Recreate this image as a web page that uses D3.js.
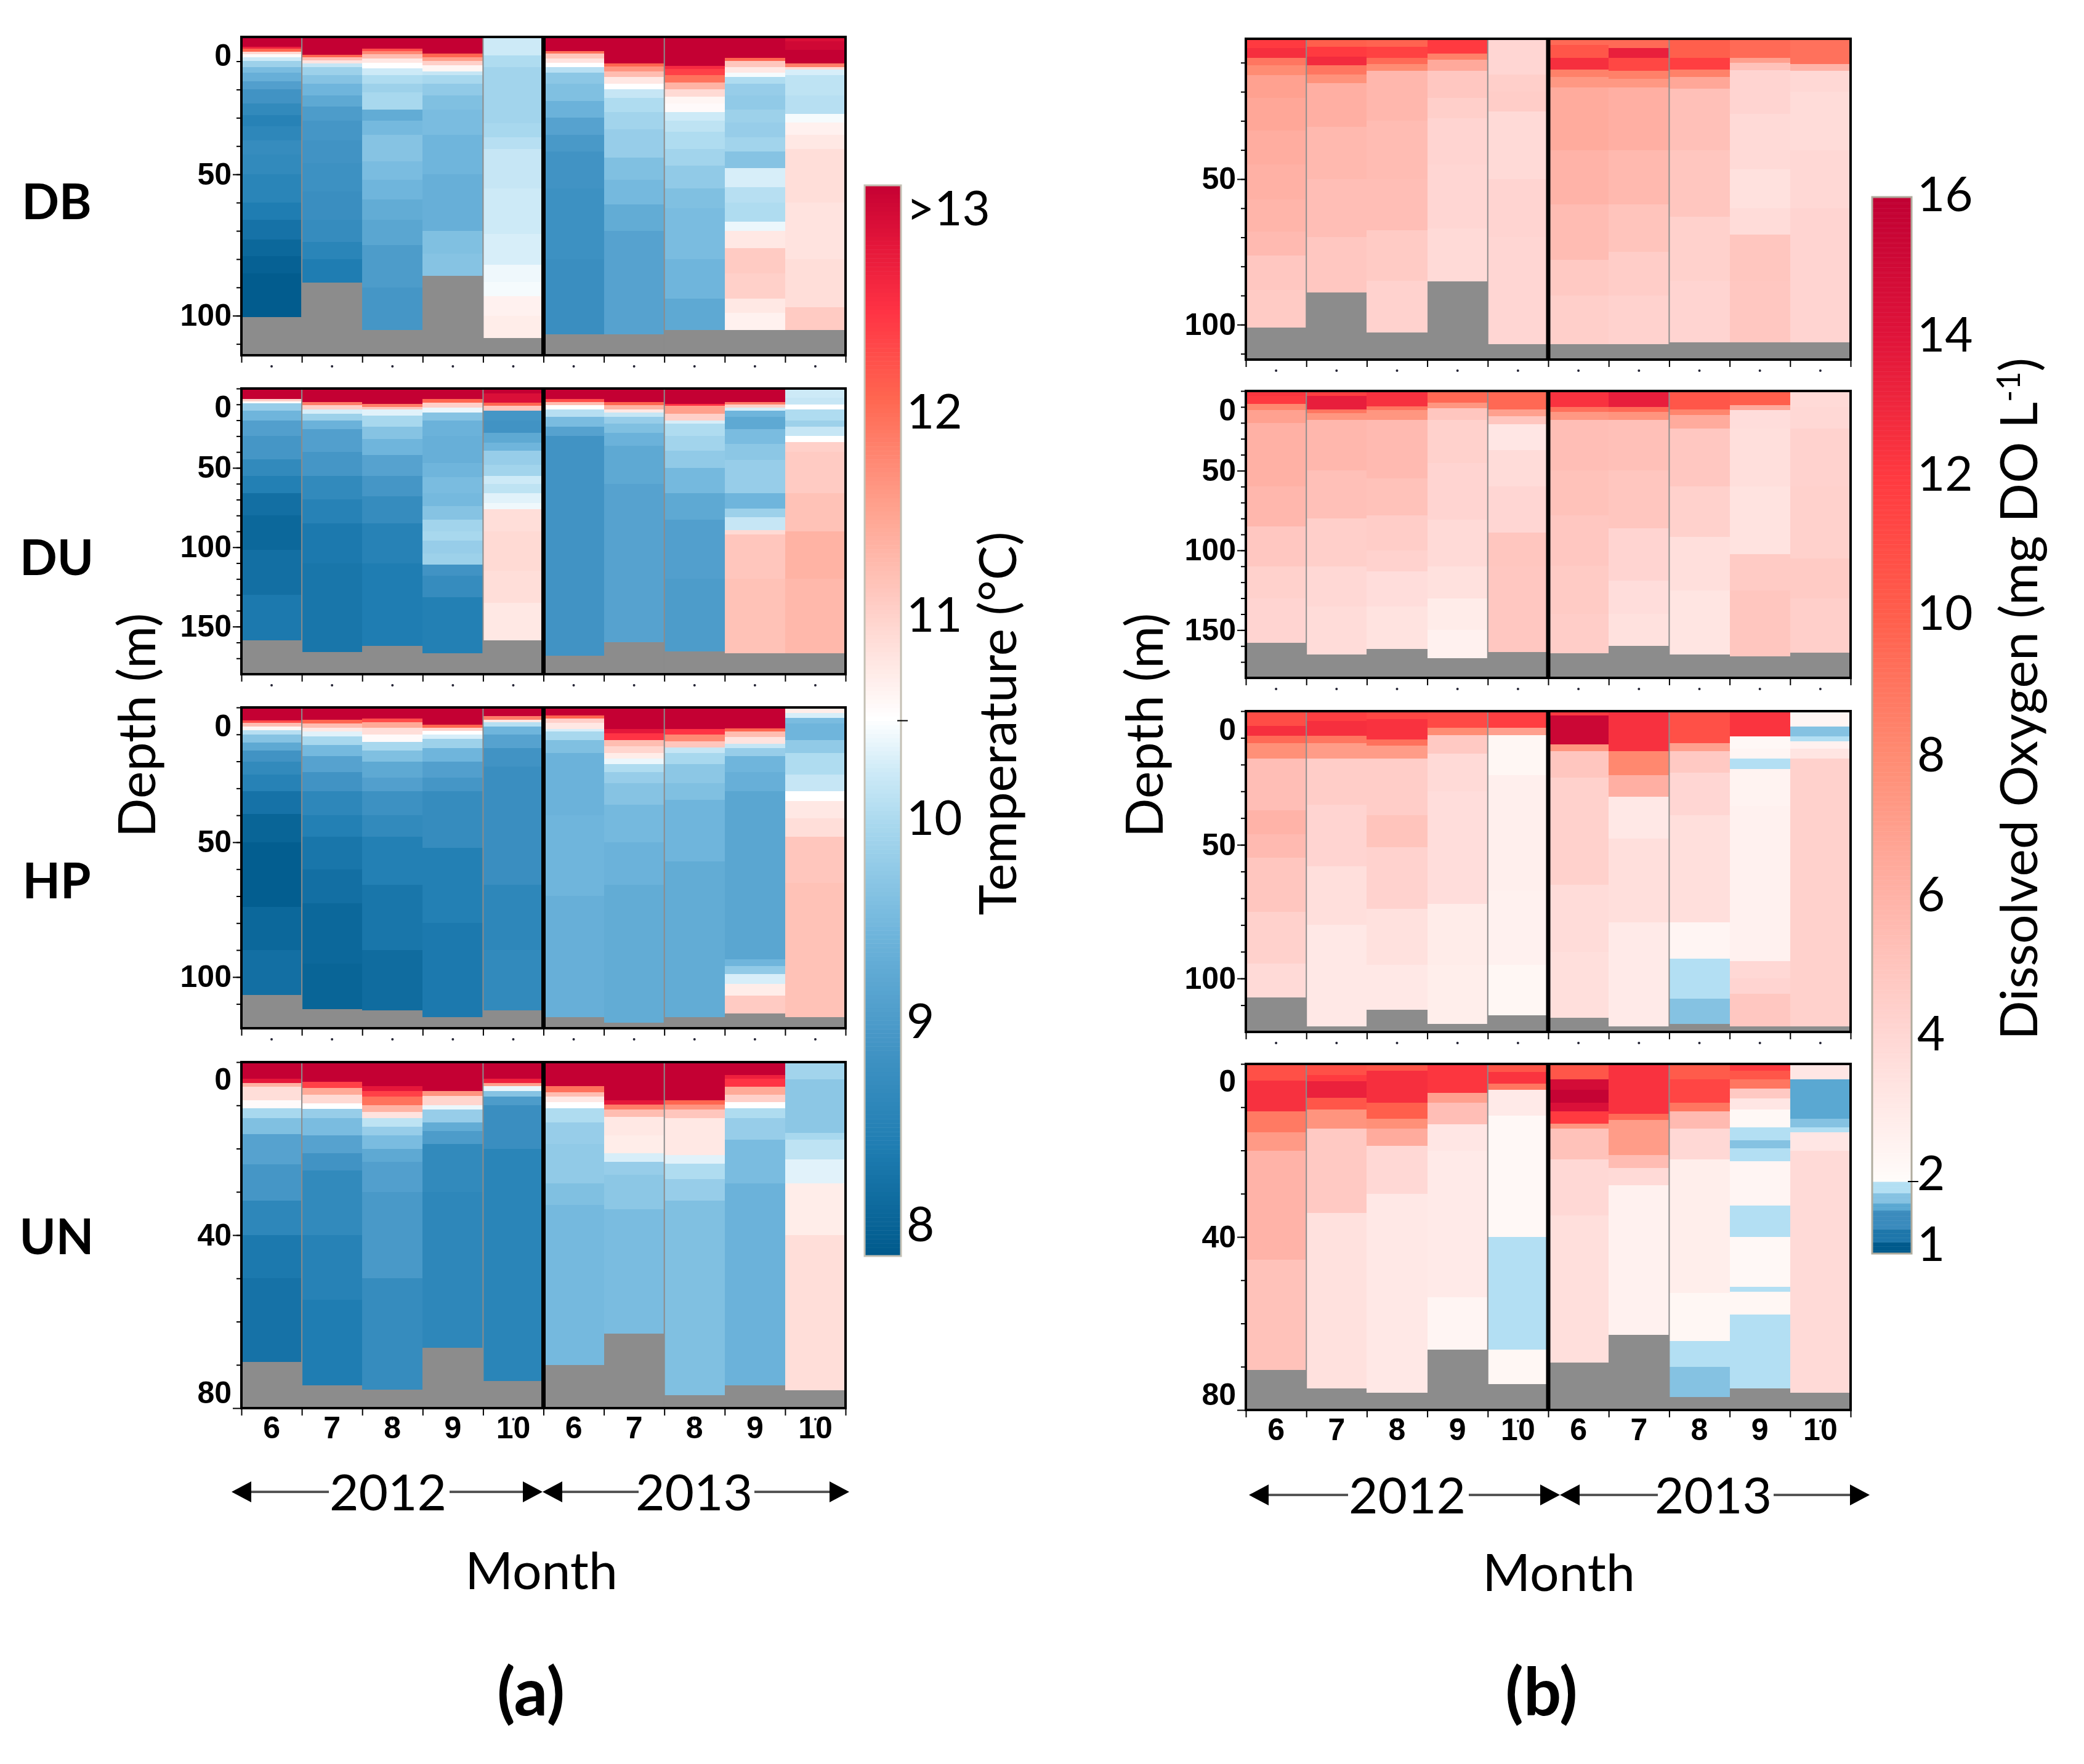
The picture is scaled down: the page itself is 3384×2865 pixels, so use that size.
<!DOCTYPE html>
<html>
<head>
<meta charset="utf-8">
<script src="https://cdn.jsdelivr.net/npm/d3@7"></script>
<style>
  body { margin: 0; background: #fff; }
  text { fill: #000; }
  .tick-num { font-family: "Liberation Sans", sans-serif; font-weight: 700; font-size: 50px; }
  .label { font-family: Lato, sans-serif; }
</style>
</head>
<body>
<svg id="chart" width="3384" height="2865"></svg>
<script>
// --- data ---
// every profile is a list of [bottom depth of band (m), value]
const sites = ["DB", "DU", "HP", "UN"];
const monthLabels = [6, 7, 8, 9, 10, 6, 7, 8, 9, 10];
const years = ["2012", "2013"];

const tempDB = [
  [[4.8,13],[5.6,12.6],[6.6,12],[7.6,10.9],[8.6,10.55],[10,10.25],[12,9.9],[14,9.6],[17,9.4],[20,9.15],[25,8.95],[29,8.75],[33,8.6],[38,8.7],[43,8.8],[50,8.75],[60,8.65],[66,8.5],[73,8.35],[79,8.2],[85,8.1],[100.5,8.03]],
  [[7.7,13],[8.6,12],[9.6,11.2],[10.7,10.8],[12,10.2],[15,9.9],[18,9.7],[22,9.5],[26,9.3],[31,9.1],[38,9],[46,8.95],[56,8.9],[66,8.85],[74,8.8],[80,8.65],[88.4,8.5]],
  [[5.5,13],[6.5,12.2],[7.5,11.7],[9,11.2],[10.5,10.75],[12.5,10.5],[15,10.25],[18,10.05],[21,9.9],[24,10],[27,10],[31,9.35],[36,9.55],[45.5,9.7],[52,9.6],[59,9.5],[66,9.35],[75,9.25],[90,9.1],[105,9]],
  [[7.3,13],[8.5,12],[10,11.5],[11.5,11],[13.5,10.6],[15,10.2],[18,10],[22,9.8],[27,9.65],[36,9.6],[50,9.5],[62,9.4],[70,9.4],[78,9.65],[86,9.7]],
  [[8,10.25],[12,10.05],[32,9.95],[37,10],[41,10.1],[55,10.2],[71,10.25],[76,10.3],[82,10.3],[88,10.42],[93,10.45],[100,10.65],[108,10.7]],
  [[6.5,13],[7.3,11.9],[9,11.1],[10.5,10.8],[12,10.5],[14,10.1],[18,9.75],[24,9.65],[30,9.45],[36,9.2],[42,9.05],[55,8.95],[80,8.9],[106.5,8.85]],
  [[10.8,13],[11.8,12],[13.5,11.6],[15.5,11.2],[18,10.75],[20,10.5],[23,10.2],[28,10.05],[34,9.95],[44,9.85],[52,9.65],[60.6,9.55],[70,9.35],[106.5,9.2]],
  [[11.6,13],[12.8,12.5],[15,12.3],[17.5,11.9],[20,11.3],[22.5,10.9],[25,10.6],[28,10.55],[31,10.25],[35,10.15],[41,10.05],[47,9.95],[55,9.8],[62,9.65],[80,9.6],[94,9.5],[105,9.3]],
  [[8.8,13],[10,12],[12,11.1],[14,10.75],[15.5,10.45],[18,10.05],[22,9.85],[27,9.8],[31.7,9.9],[37,9.85],[42,9.95],[47.7,9.7],[54.6,10.3],[60,10.1],[66.8,10.05],[70,10.4],[76,10.75],[85,11.05],[94,11],[99,10.75],[105,10.65]],
  [[3,12.8],[6,12.9],[10.8,13],[12,11.8],[13,10.9],[15,10.3],[22,10.15],[28.7,10.1],[31.7,10.45],[36,10.65],[41,10.75],[60,10.85],[80,10.8],[97,10.85],[105,11.05]]
];
const tempDU = [
  [[6.5,13],[8,11],[9.5,10.5],[14,9.85],[20,9.5],[30,9.15],[44.6,9],[55,8.75],[66,8.55],[80,8.3],[101.6,8.2],[130,8.3],[158.7,8.45]],
  [[8.7,13],[10.5,11.8],[13.3,11],[16,10.3],[20,9.9],[25.5,9.45],[40,9.15],[55,9],[70,8.75],[85,8.6],[110,8.45],[166,8.4]],
  [[9.8,13],[11.5,11.8],[13.3,11.1],[17,10.35],[24,10],[32,9.7],[42,9.5],[55,9.2],[68,9],[85,8.8],[110,8.6],[162,8.5]],
  [[6.5,13],[9,12],[12,11],[15,10.4],[20,9.7],[30,9.45],[47,9.4],[56,9.5],[66,9.6],[74,9.55],[82.6,9.7],[90,9.95],[96,10],[104,9.85],[111,9.9],[118,8.95],[131.5,8.8],[150,8.55],[167,8.55]],
  [[3,13],[9,12.8],[11,12],[14,11.1],[20,9],[28,8.95],[34,9.3],[39,9.5],[48,9.85],[55,9.95],[60,10.25],[66,10.15],[72,10.35],[76,10.42],[90,10.85],[115,10.9],[135,10.85],[158.7,10.75]],
  [[6.5,13],[8.5,12.2],[10.6,11.2],[13,10.5],[18,10.1],[24,9.6],[30,9.2],[168.5,8.95]],
  [[8.5,13],[10.5,12],[13,11.3],[15,10.75],[18,10.2],[22,9.85],[28,9.65],[36,9.45],[60,9.3],[160,9.2]],
  [[9.8,13],[11,12.4],[16,11.5],[20,11],[22,10.3],[30,10.05],[39,9.95],[50,9.8],[66,9.55],[82.6,9.3],[120,9.15],[165.5,9.1]],
  [[8.7,13],[10,11.8],[12,11],[14,10.3],[18,9.5],[25.5,9.3],[35,9.6],[45,9.75],[55,9.85],[66,9.85],[75.5,9.5],[81,9.9],[89.4,10.2],[92,10.9],[120,11.1],[167,11.15]],
  [[6,10.25],[10,10.2],[13,10.5],[20,10.05],[24,9.9],[30,10.2],[33.7,10.5],[40,11],[66,11.05],[90,11.15],[120,11.3],[167,11.25]]
];
const tempHP = [
  [[4.8,13],[5.8,12.2],[7,11.2],[8.5,10.6],[10,10.1],[13,9.7],[16,9.3],[20,8.95],[25,8.75],[31,8.6],[39.5,8.35],[50,8.15],[74,8.05],[90,8.2],[106.6,8.3]],
  [[4.5,13],[6,12],[7.5,11.2],[9,10.75],[10.8,10.35],[14,10],[18,9.55],[24,9.2],[31,8.95],[40,8.7],[48,8.55],[60,8.4],[72.6,8.3],[95,8.2],[112,8.15]],
  [[4,13],[5.5,12.2],[7.5,11.4],[10,10.85],[12.9,10.55],[16,10],[20,9.65],[26,9.3],[31,9.15],[40,8.9],[48,8.75],[65.7,8.55],[90,8.4],[112.4,8.25]],
  [[6.5,13],[7.6,12],[8.6,11],[10,10.5],[11.7,10.3],[15,9.9],[20,9.5],[26,9.15],[31,9],[52,8.8],[80,8.55],[115,8.45]],
  [[3.3,13],[4.5,11.8],[5.5,10.75],[7,10.1],[10,9.5],[15,9.2],[22,8.95],[29,8.85],[65.7,8.85],[90,8.7],[112.4,8.75]],
  [[3,13],[4,12],[5.6,11],[8,10.75],[9,10.3],[12,10],[17,9.65],[40,9.45],[70,9.5],[115,9.4]],
  [[8,13],[9.5,12.7],[12,12.4],[14.5,11.2],[17,10.95],[19,10.7],[21,10.4],[24,10.05],[28,9.85],[36,9.7],[50,9.55],[65.7,9.45],[117,9.35]],
  [[8,13],[10,12.4],[12.5,11.7],[14.8,11.1],[17,10.2],[21,10],[28,9.75],[34.3,9.65],[57,9.5],[115,9.35]],
  [[7.8,13],[9,12],[11,11.2],[13.4,10.8],[15,10.2],[18,9.85],[24,9.5],[31,9.4],[93.5,9.25],[96,9.5],[99,9.8],[102.6,10.3],[107,10.7],[113.6,11.05]],
  [[2,10.7],[3.8,10.3],[6,9.6],[12,9.5],[17,9.8],[25,10.05],[31,10.2],[34.7,10.5],[41,10.75],[48,10.85],[65,11.1],[115,11.15]]
];
const tempUN = [
  [[3.8,13],[4.8,12.7],[5.7,11.3],[8.8,10.85],[10.7,10.55],[13,10],[16.7,9.65],[23.6,9.2],[32,9],[40,8.7],[50,8.45],[69.3,8.35]],
  [[4.6,13],[6,12.3],[7.5,11.4],[9.5,10.9],[10.8,10.5],[13,9.85],[17,9.6],[21,9.2],[25,8.95],[40,8.75],[55,8.6],[74.7,8.5]],
  [[5.5,13],[6.7,12.7],[8,12.3],[10,11.9],[11.5,11.3],[13,10.8],[15,10.15],[17,9.85],[20,9.6],[23,9.3],[30,9.15],[50,9.05],[75.8,8.8]],
  [[6.7,13],[7.8,11.6],[10,10.95],[11,10.4],[14,9.85],[16,9.35],[19,9.1],[30,8.75],[66,8.7]],
  [[3.8,13],[4.8,12.6],[5.6,11.5],[6.7,10.4],[8,9.7],[10,9.1],[20,8.85],[33,8.65],[73.7,8.65]],
  [[5.5,13],[7,11.9],[8,11.2],[9.3,10.75],[10.7,10.5],[14,10.05],[19,9.85],[28,9.8],[33,9.65],[70,9.55]],
  [[8.8,13],[9.8,12.7],[11,11.8],[12.7,11.2],[17,10.75],[21,10.7],[23,10.3],[26,9.85],[34,9.75],[62.8,9.6]],
  [[8.8,13],[9.8,12],[11,11.6],[13,11.1],[21.5,10.75],[23.5,10.35],[27,10.05],[32,9.85],[77,9.65]],
  [[3,13],[3.8,12.6],[5.7,12.4],[7.5,11.4],[9.3,11],[10.7,10.5],[13,10.05],[18,9.85],[28,9.6],[74.7,9.45]],
  [[4,9.95],[16.3,9.75],[18,10],[22.5,10.15],[28,10.35],[40,10.7],[75.9,10.85]]
];

const doDB = [
  [[5,12],[8.3,12.6],[11,9],[14.2,8],[22,6.9],[33.4,6.6],[45,6.3],[57,6.1],[68,5.9],[76.3,5.6],[88,4.9],[100.9,4.7]],
  [[4.6,10],[8,12],[11,12.8],[14,9],[17,7.7],[32,6.2],[50,5.7],[70,5.4],[89,4.9]],
  [[4.6,9.8],[8.3,11.6],[10.5,9.5],[12.7,8],[30,5.8],[50,5.5],[67.5,5.4],[85,4.7],[102.7,4.3]],
  [[6.8,12],[9,8.5],[12.7,6.5],[22,4.9],[29,4.5],[45,4.2],[67,4.1],[85.2,3.9]],
  [[14,4.1],[20,4.5],[26.8,4.6],[50,3.9],[70,4.2],[106.7,4.1]],
  [[4,9.5],[8.3,10.5],[12.4,12.6],[15,8.5],[18.6,7.4],[40,6.4],[58.6,6],[77.8,5.5],[90,4.8],[106.7,4.5]],
  [[5,9.5],[8.3,13.4],[12.7,11.3],[15.5,8.5],[18.6,7.4],[40,6.2],[58.6,5.7],[75,5.1],[90,4.6],[106.7,4.3]],
  [[8.3,10],[12.4,11.8],[15,8.5],[19,6.6],[40,5.3],[63,5],[85,4.4],[106,4.2]],
  [[8.3,9.5],[10,7],[12.5,5.2],[27.5,4.2],[46.7,3.9],[60,3.5],[69,3.8],[85,5],[106,4.9]],
  [[10.5,9.2],[12.7,6],[20,4],[40,3.8],[60,4],[106,4.2]]
];
const doDU = [
  [[3,12.2],[8,12],[12,8.2],[20,6.9],[60,6.1],[85,5.8],[110,4.9],[130,4.4],[158,4.2]],
  [[3,11.8],[11.4,13.5],[14,9],[18,7.5],[50,5.8],[80,5.3],[110,4.5],[135,4],[165.5,3.8]],
  [[9.5,12.5],[12,9],[18,7.5],[55,5.6],[78,5.2],[100,4.6],[113,4.3],[135,3.7],[162,3.4]],
  [[7.3,9.6],[11,7.5],[18,5],[45,4.4],[80.7,4.2],[110,3.9],[130,3.5],[150,2.9],[167.7,2.6]],
  [[11.4,9.6],[16,7],[21,5],[37,3.2],[60,3.8],[89,4.1],[110,5],[163.6,4.9]],
  [[10,12.4],[13,9.2],[18,7.4],[50,5.4],[78,5.2],[109.6,4.9],[140,4.7],[164.4,4.6]],
  [[10,13.5],[13,9.5],[18,7.6],[50,5.3],[86,5],[118.8,4.2],[140,3.7],[160,3.5]],
  [[11.4,10.5],[15,8.3],[23.6,6.4],[60,4.9],[91.6,4.4],[125,3.6],[165.5,3.3]],
  [[8.7,10],[12,6.5],[23.6,3.7],[60,3.6],[102.4,3.4],[125,4.7],[166.6,5]],
  [[10,3.9],[23.6,4],[60,4.3],[105,4.4],[130,4.7],[164,4.5]]
];
const doHP = [
  [[5.5,11],[9.3,12.6],[12,9.5],[17.8,7.8],[37,5.4],[46,6],[54.8,5.6],[75,5],[94.5,4.4],[107,3.9]],
  [[3.7,11.8],[9.3,12.6],[12,9],[17.8,7.2],[35,4.6],[58,4.2],[80,3.6],[118,3.1]],
  [[3,11.3],[10.7,12.4],[13,9.2],[17.8,7.2],[39,4.6],[51,5.1],[74,4.3],[95,3.5],[111.6,3.1]],
  [[6.3,11.2],[9,8],[16,4.8],[30,3.9],[72,3.7],[95,2.9],[117,2.8]],
  [[6.3,11.8],[9,7],[24,2.3],[67,2.7],[95,2.6],[113.7,2.3]],
  [[1.7,12],[12.5,15.3],[15,7.5],[24.8,5],[65,4.4],[90,3.8],[114.6,3.6]],
  [[15,12.5],[24,8.2],[32,6.2],[47.7,3.1],[79,3.6],[118,3]],
  [[12,10.8],[15,7],[23,4.8],[39,4.1],[79,3.6],[92.6,2.4],[107.6,1.9],[117,1.75]],
  [[9.5,12.3],[14,2.2],[17.8,2.4],[21.6,1.9],[35.4,2.5],[93.5,2.6],[100,4],[105.8,4.2],[118,4.9]],
  [[5.8,2.4],[9.5,1.75],[11.3,1.9],[14,2.6],[17.8,3.3],[118,4.4]]
];
const doUN = [
  [[3.9,10.8],[11,12.5],[15.8,8.8],[20,7.3],[45.3,6],[70.8,5.2]],
  [[2.5,10.8],[4,12],[7.8,13.3],[10.5,10.5],[15,7.6],[34.5,4.8],[75,3.5]],
  [[1.5,10.5],[9,12.6],[12.7,10],[15,7.8],[19,6.4],[30,4],[76,3.1]],
  [[6.7,12.2],[9,7],[14,5.4],[20,3.2],[54,3],[66,2.4]],
  [[1.8,10.5],[4.6,12.3],[6,9],[12,3],[40,2.2],[66,1.9],[74,2.3]],
  [[3.5,10.5],[6,14.8],[9,15.7],[11,14.4],[13.8,12],[15,7.5],[22,5.2],[35,4],[69,3.6]],
  [[11.6,12.4],[13,9.5],[21,7.2],[24,5.5],[28,3.9],[62.7,2.6]],
  [[3.5,10.2],[9,11.4],[11,9],[15,5.6],[22,4],[53,2.8],[64,2.3],[70,1.9],[77,1.75]],
  [[1.5,12],[3.5,10.5],[5.7,9],[8,4.8],[10.5,3.2],[14.6,2.2],[17.6,1.9],[19.5,1.75],[22.5,1.9],[32.8,2.4],[40,1.9],[51.6,2.2],[52.7,1.9],[58,2.3],[75,1.9]],
  [[3.5,3.2],[12.7,1.65],[14.6,1.75],[15.8,1.9],[20,3.2],[76,3.9]]
];

// color stops read from the two legends
const tempStops = [8, 8.5, 9, 9.5, 10, 10.25, 10.5, 10.75, 11, 11.5, 12, 12.4, 12.7, 13];
const tempColors = ["#005a8c", "#1f7db2", "#4596c6", "#6fb5dc", "#a8d8ee", "#cdeaf7", "#ffffff", "#ffe8e4", "#ffd0c9", "#ffa08c", "#ff6650", "#ff3344", "#e5173a", "#c40033"];
const doStops = [2, 4, 6, 8, 10, 12, 14, 16];
const doColors = ["#fffcfa", "#ffd8d5", "#ffb3a8", "#ff8c73", "#ff5f4c", "#ff3a40", "#e0143a", "#c00033"];
const doLowBreaks = [1.15, 1.34, 1.6, 1.7, 1.83];
const doLowColors = ["#005a8c", "#1f77ab", "#3b8bbd", "#5aa8d2", "#85c2e2", "#b3dff3"];

// y axis: tick labels, and the depth each label sits beside
const yLabels = [["0", "50", "100"], ["0", "50", "100", "150"], ["0", "50", "100"], ["0", "40", "80"]];
const yLabelDepths = [[8, 50, 100], [12, 50, 100, 150], [7, 50, 100], [4, 40, 76.5]];
const yLabelsB = [["50", "100"], ["0", "50", "100", "150"], ["0", "50", "100"], ["0", "40", "80"]];
const yLabelDepthsB = [[50, 100], [12, 50, 100, 150], [7, 50, 100], [4, 40, 76.5]];
const tempLegendLabels = ["8", "9", "10", "11", "12", ">13"];
const doLegendLabels = ["1", "2", "4", "6", "8", "10", "12", "14", "16"];

// --- layout ---
const svg = d3.select("#chart");
const grey = "#8c8c8c";

const tempColor = d3.scaleLinear().domain(tempStops).range(tempColors).clamp(true);
const doHigh = d3.scaleLinear().domain(doStops).range(doColors).clamp(true);
const doLow = d3.scaleThreshold().domain(doLowBreaks).range(doLowColors);
const doColor = v => v < 2 ? doLow(v) : doHigh(v);

const panelA = {
  x0: 392, x1: 1373, color: tempColor,
  rows: [
    { top: 60, bottom: 577, domain: [1.4, 114], data: tempDB, labels: yLabels[0], labelDepths: yLabelDepths[0], major: [50, 100] },
    { top: 631, bottom: 1095, domain: [0, 180], data: tempDU, labels: yLabels[1], labelDepths: yLabelDepths[1], major: [50, 100, 150] },
    { top: 1149, bottom: 1670, domain: [0, 119], data: tempHP, labels: yLabels[2], labelDepths: yLabelDepths[2], major: [50, 100] },
    { top: 1725, bottom: 2287, domain: [0, 80], data: tempUN, labels: yLabels[3], labelDepths: yLabelDepths[3], major: [40, 80] }
  ]
};
const panelB = {
  x0: 2023, x1: 3005, color: doColor,
  rows: [
    { top: 63, bottom: 584, domain: [1.8, 112], data: doDB, labels: yLabelsB[0], labelDepths: yLabelDepthsB[0], major: [50, 100] },
    { top: 635, bottom: 1101, domain: [0, 180], data: doDU, labels: yLabelsB[1], labelDepths: yLabelDepthsB[1], major: [50, 100, 150] },
    { top: 1155, bottom: 1676, domain: [0, 120], data: doHP, labels: yLabelsB[2], labelDepths: yLabelDepthsB[2], major: [50, 100] },
    { top: 1728, bottom: 2290, domain: [0, 80], data: doUN, labels: yLabelsB[3], labelDepths: yLabelDepthsB[3], major: [40, 80] }
  ]
};

function drawRow(panel, row, isLast) {
  const x = d3.scaleBand().domain(d3.range(10)).range([panel.x0, panel.x1]);
  const edges = d3.scaleLinear().domain([0, 10]).range([panel.x0, panel.x1]);
  const y = d3.scaleLinear().domain(row.domain).range([row.top, row.bottom]);
  const g = svg.append("g");

  g.append("rect")
    .attr("x", panel.x0).attr("y", row.top)
    .attr("width", panel.x1 - panel.x0).attr("height", row.bottom - row.top)
    .attr("fill", grey);

  const cols = g.selectAll(".col").data(row.data).join("g").attr("class", "col");
  cols.selectAll("rect")
    .data((profile, i) => profile.map((band, j) => ({
      col: i,
      from: j ? profile[j - 1][0] : row.domain[0],
      to: band[0],
      value: band[1]
    })))
    .join("rect")
    .attr("x", d => x(d.col))
    .attr("width", x.bandwidth())
    .attr("y", d => y(d.from))
    .attr("height", d => y(d.to) - y(d.from))
    .attr("fill", d => panel.color(d.value))
    .attr("shape-rendering", "crispEdges");

  // thin grey month separators
  g.selectAll(".sep").data([1, 4, 7]).join("line")
    .attr("x1", d => edges(d)).attr("x2", d => edges(d))
    .attr("y1", row.top).attr("y2", row.bottom)
    .attr("stroke", grey).attr("stroke-width", 2);

  // year divider and frame
  g.append("line")
    .attr("x1", edges(5)).attr("x2", edges(5))
    .attr("y1", row.top).attr("y2", row.bottom)
    .attr("stroke", "#000").attr("stroke-width", 7);
  g.append("rect")
    .attr("x", panel.x0).attr("y", row.top)
    .attr("width", panel.x1 - panel.x0).attr("height", row.bottom - row.top)
    .attr("fill", "none").attr("stroke", "#000").attr("stroke-width", 4);

  // y axis: minor ticks each 10 m, longer ticks on labelled depths, labels beside them
  const minor = d3.range(0, row.domain[1], 10);
  const axisStyle = sel => { sel.select(".domain").remove(); sel.selectAll("text").remove(); };
  g.append("g").attr("transform", `translate(${panel.x0},0)`)
    .call(d3.axisLeft(y).tickValues(minor.filter(d => d >= row.domain[0])).tickSize(8))
    .call(axisStyle);
  g.append("g").attr("transform", `translate(${panel.x0},0)`)
    .call(d3.axisLeft(y).tickValues(row.major).tickSize(14))
    .call(axisStyle);
  g.selectAll(".tick line").attr("stroke", "#000").attr("stroke-width", 2);

  const labelScale = d3.scaleOrdinal().domain(row.labelDepths).range(row.labels);
  const labelAxis = g.append("g").attr("transform", `translate(${panel.x0 - 13},0)`)
    .call(d3.axisLeft(y).tickValues(row.labelDepths).tickSize(0).tickFormat(d => labelScale(d)));
  labelAxis.select(".domain").remove();
  labelAxis.selectAll("text").attr("class", "tick-num").attr("fill", "#000").attr("font-size", null).attr("font-family", null);

  // x axis: ticks on column edges, a small dot at each column centre
  const xAxis = g.append("g").attr("transform", `translate(0,${row.bottom})`)
    .call(d3.axisBottom(edges).tickValues(d3.range(11)).tickSize(12).tickFormat(""));
  xAxis.select(".domain").remove();
  xAxis.selectAll("line").attr("stroke", "#000").attr("stroke-width", 2);
  g.selectAll(".dot").data(d3.range(10)).join("circle")
    .attr("cx", d => x(d) + x.bandwidth() / 2)
    .attr("cy", row.bottom + 18)
    .attr("r", 2)
    .attr("fill", "#223");

  if (isLast) {
    const monthAxis = g.append("g").attr("transform", `translate(0,${row.bottom + 10})`)
      .call(d3.axisBottom(x).tickSize(0).tickFormat(d => monthLabels[d]));
    monthAxis.select(".domain").remove();
    monthAxis.selectAll("text")
      .attr("class", "tick-num").attr("fill", "#000").attr("font-family", null)
      .attr("font-size", 48);
  }
}

function drawYearArrows(tipLeft, mid, tipRight, y0, yearCentres) {
  const head = 32, half = 17;
  const g = svg.append("g");
  const segs = [
    [tipLeft + head, yearCentres[0] - 96],
    [yearCentres[0] + 100, mid - 30],
    [mid + 26, yearCentres[1] - 90],
    [yearCentres[1] + 98, tipRight - head]
  ];
  g.selectAll("line").data(segs).join("line")
    .attr("x1", d => d[0]).attr("x2", d => d[1])
    .attr("y1", y0).attr("y2", y0)
    .attr("stroke", "#555").attr("stroke-width", 4);
  const tri = (tip, dir) => `M${tip},${y0}L${tip + dir * head},${y0 - half}L${tip + dir * head},${y0 + half}Z`;
  g.selectAll("path").data([tri(tipLeft, 1), tri(mid, -1), tri(mid, 1), tri(tipRight, -1)]).join("path")
    .attr("d", d => d).attr("fill", "#000");
  g.selectAll("text").data(years).join("text")
    .attr("class", "label").attr("x", (d, i) => yearCentres[i]).attr("y", y0 + 30)
    .attr("text-anchor", "middle").attr("font-size", 82)
    .text(d => d);
}

function centredText(txt, x, y, size, weight, rotate) {
  const t = svg.append("text").attr("class", "label")
    .attr("text-anchor", "middle").attr("font-size", size).attr("font-weight", weight || 400);
  if (rotate) t.attr("transform", `translate(${x},${y}) rotate(-90)`);
  else t.attr("x", x).attr("y", y);
  return t.text(txt);
}

[panelA, panelB].forEach(panel => {
  panel.rows.forEach((row, i) => drawRow(panel, row, i === panel.rows.length - 1));
});

// site names
const siteY = d3.scaleOrdinal().domain(sites).range([356, 934, 1459, 2037]);
svg.selectAll(".site").data(sites).join("text")
  .attr("class", "label site")
  .attr("x", 92).attr("y", d => siteY(d))
  .attr("text-anchor", "middle").attr("font-size", 80).attr("font-weight", 700)
  .text(d => d);

// axis titles
centredText("Depth (m)", 252, 1178, 84, 400, true);
centredText("Depth (m)", 1888, 1178, 84, 400, true);
centredText("Month", 879, 2581, 84);
centredText("Month", 2531, 2584, 84);
drawYearArrows(376, 881, 1379, 2423, [630, 1127]);
drawYearArrows(2028, 2533, 3036, 2428, [2285, 2782]);
centredText("(a)", 862, 2786, 108, 700);
centredText("(b)", 2503, 2786, 108, 700);

// temperature legend
const tempBar = d3.scaleLinear().domain([8, 13]).range([2040, 301]);
const tempLegend = svg.append("g");
tempLegend.selectAll("rect").data(d3.range(8, 13, 0.02)).join("rect")
  .attr("x", 1404).attr("width", 59)
  .attr("y", d => tempBar(d + 0.02)).attr("height", d => tempBar(d) - tempBar(d + 0.02) + 0.5)
  .attr("fill", d => tempColor(d));
tempLegend.append("rect").attr("x", 1404).attr("y", 301).attr("width", 59).attr("height", 1739)
  .attr("fill", "none").attr("stroke", "#c4c0b4").attr("stroke-width", 3);
tempLegend.append("line").attr("x1", 1457).attr("x2", 1474)
  .attr("y1", tempBar(10.5)).attr("y2", tempBar(10.5)).attr("stroke", "#000").attr("stroke-width", 2);
const tempLabelY = d3.scalePoint().domain(tempLegendLabels).range([1991, 341]);
const tempAxis = tempLegend.append("g").attr("transform", "translate(1469,0)")
  .call(d3.axisRight(tempLabelY).tickSize(0));
tempAxis.select(".domain").remove();
tempAxis.selectAll("text").attr("class", "label").attr("font-size", 78).attr("font-family", null).attr("fill", "#000");
centredText("Temperature (°C)", 1650, 1175, 84, 400, true);

// dissolved oxygen legend
const doBar = d3.scaleLinear().domain([1, 2, 16]).range([2036, 1919, 320]);
const doLegend = svg.append("g");
doLegend.selectAll("rect").data(d3.range(1, 16, 0.02)).join("rect")
  .attr("x", 3040).attr("width", 64)
  .attr("y", d => doBar(d + 0.02)).attr("height", d => doBar(d) - doBar(d + 0.02) + 0.5)
  .attr("fill", d => doColor(d));
doLegend.append("rect").attr("x", 3040).attr("y", 320).attr("width", 64).attr("height", 1716)
  .attr("fill", "none").attr("stroke", "#b0ac9e").attr("stroke-width", 3);
doLegend.append("line").attr("x1", 3098).attr("x2", 3115)
  .attr("y1", doBar(2)).attr("y2", doBar(2)).attr("stroke", "#000").attr("stroke-width", 2);
const doLabelPos = [2023, 1908, 1681, 1455, 1228, 998, 772, 546, 318];
const doAxis = doLegend.append("g").attr("transform", "translate(3110,0)")
  .call(d3.axisRight(d3.scaleIdentity().domain([0, 2865])).tickValues(doLabelPos).tickSize(0)
    .tickFormat((d, i) => doLegendLabels[i]));
doAxis.select(".domain").remove();
doAxis.selectAll("text").attr("class", "label").attr("font-size", 78).attr("font-family", null).attr("fill", "#000");
const doTitle = centredText("", 3308, 1135, 84, 400, true);
doTitle.append("tspan").text("Dissolved Oxygen (mg DO L");
doTitle.append("tspan").attr("dy", -28).attr("font-size", 52).text("-1");
doTitle.append("tspan").attr("dy", 28).text(")");
</script>
</body>
</html>
